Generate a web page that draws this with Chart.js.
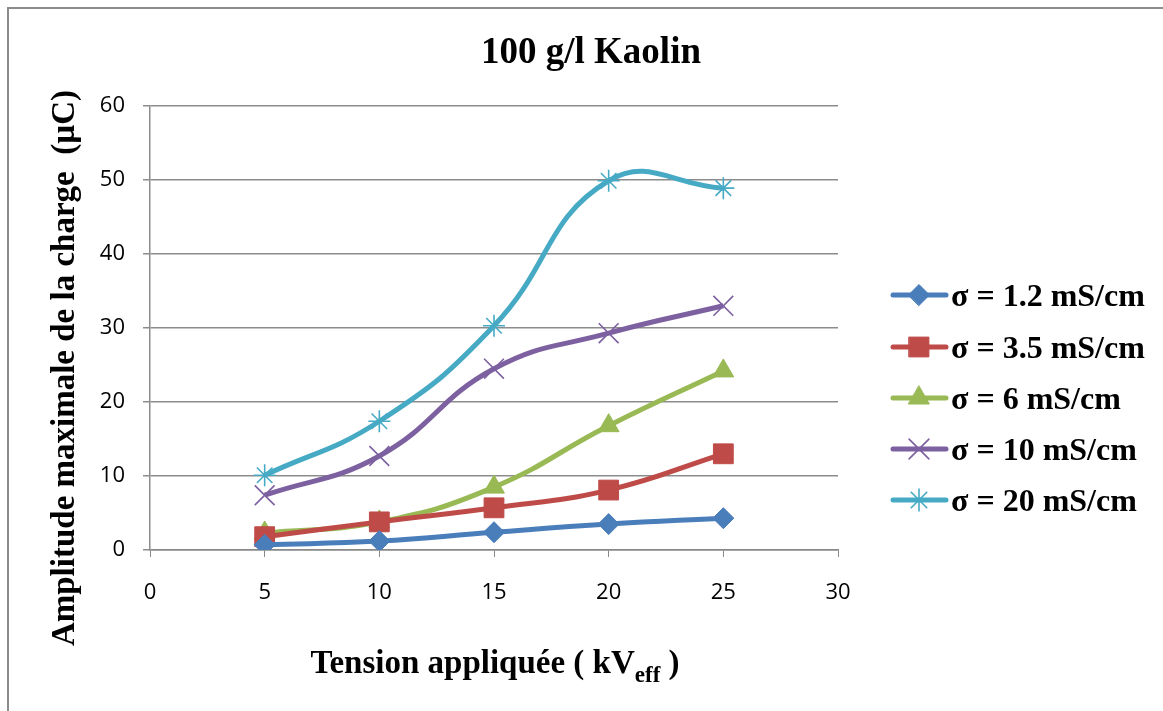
<!DOCTYPE html>
<html><head><meta charset="utf-8">
<script src="https://cdn.jsdelivr.net/npm/chart.js@4.4.1/dist/chart.umd.min.js"></script>
<style>html,body{margin:0;padding:0;background:#fff}#wrap{width:1163px;height:711px}</style>
</head><body><div id="wrap"><canvas id="c" width="1163" height="711"></canvas></div>
<script>
const voltages = [5, 10, 15, 20, 25];
const seriesNames = ['σ = 1.2 mS/cm', 'σ = 3.5 mS/cm', 'σ = 6 mS/cm', 'σ = 10 mS/cm', 'σ = 20 mS/cm'];
const s1_2 = [0.7, 1.2, 2.4, 3.5, 4.3];
const s3_5 = [1.8, 3.8, 5.7, 8.1, 13.0];
const s6 = [2.3, 3.8, 8.5, 16.8, 24.2];
const s10 = [7.4, 12.7, 24.5, 29.3, 33.0];
const s20 = [10.1, 17.4, 30.3, 49.9, 48.9];
const yTicks = [0, 10, 20, 30, 40, 50, 60];
const xTicks = [0, 5, 10, 15, 20, 25, 30];
const titleText = '100 g/l Kaolin';
const yTitle = 'Amplitude maximale de la charge  (µC)';

const colors = ['#4A7EBB', '#BE4B48', '#98B954', '#7D60A0', '#46AAC5'];
const styles = ['rectRot', 'rect', 'triangle', 'crossRot', 'star'];
const radii = [10.5, 14, 12, 14, 11];
const allData = [s1_2, s3_5, s6, s10, s20];

const datasets = allData.map((vals, i) => ({
  label: seriesNames[i],
  data: vals.map((v, j) => ({x: voltages[j], y: v})),
  borderColor: colors[i],
  backgroundColor: colors[i],
  borderWidth: 5,
  pointStyle: styles[i],
  pointRadius: radii[i],
  pointBorderWidth: (styles[i] === 'crossRot' || styles[i] === 'star') ? 1.6 : 1,
  pointBorderColor: colors[i],
  pointBackgroundColor: colors[i],
  tension: 0.45,
  fill: false
}));

const SERIF = '"Liberation Serif", "Times New Roman", serif';

const deco = {
  id: 'deco',
  beforeDraw(chart) {
    const ctx = chart.ctx;
    ctx.save();
    ctx.fillStyle = '#fff';
    ctx.fillRect(0, 0, chart.width, chart.height);
    ctx.strokeStyle = '#8c8c8c';
    ctx.lineWidth = 2;
    ctx.strokeRect(8, 8, 1170, 720);
    ctx.restore();
  },
  afterDraw(chart) {
    const ctx = chart.ctx;
    ctx.save();
    ctx.fillStyle = '#000';
    // title
    ctx.font = 'bold 37px ' + SERIF;
    ctx.textAlign = 'center';
    ctx.textBaseline = 'alphabetic';
    ctx.fillText(titleText, 591, 63);
    // y title
    ctx.save();
    ctx.translate(65, 368);
    ctx.rotate(-Math.PI / 2);
    ctx.textBaseline = 'middle';
    ctx.font = 'bold 33px ' + SERIF;
    ctx.fillText(yTitle, 0, 0);
    ctx.restore();
    // x title with subscript
    ctx.textAlign = 'left';
    ctx.textBaseline = 'alphabetic';
    const big = 'bold 33px ' + SERIF;
    const small = 'bold 23px ' + SERIF;
    const p1 = 'Tension appliquée ( kV', p2 = 'eff', p3 = ' )';
    ctx.font = big; const w1 = ctx.measureText(p1).width; const w3 = ctx.measureText(p3).width;
    ctx.font = small; const w2 = ctx.measureText(p2).width;
    let x = 495 - (w1 + w2 + w3) / 2;
    const base = 673;
    ctx.font = big; ctx.fillText(p1, x, base); x += w1;
    ctx.font = small; ctx.fillText(p2, x, base + 9); x += w2;
    ctx.font = big; ctx.fillText(p3, x, base);
    // legend
    const rows = [295, 347, 398, 449, 500];
    chart.data.datasets.forEach((ds, i) => {
      const y = rows[i];
      ctx.strokeStyle = ds.borderColor;
      ctx.lineWidth = 5;
      ctx.lineCap = 'round';
      ctx.beginPath(); ctx.moveTo(893, y); ctx.lineTo(946, y); ctx.stroke();
      ctx.fillStyle = ds.borderColor;
      ctx.strokeStyle = ds.borderColor;
      ctx.lineWidth = ds.pointBorderWidth;
      Chart.helpers.drawPoint(ctx, {pointStyle: ds.pointStyle, rotation: 0, radius: ds.pointRadius, borderWidth: ds.pointBorderWidth}, 919, y);
      ctx.fillStyle = '#000';
      ctx.font = 'bold 32px ' + SERIF;
      ctx.textBaseline = 'alphabetic';
      ctx.fillText(ds.label, 951, y + 11);
    });
    ctx.restore();
  }
};

new Chart(document.getElementById('c'), {
  type: 'line',
  data: { datasets },
  options: {
    responsive: false,
    animation: false,
    devicePixelRatio: 1,
    layout: { padding: { left: 0, top: 106, right: 325, bottom: 0 } },
    plugins: { legend: { display: false }, title: { display: false }, tooltip: { enabled: false } },
    scales: {
      x: {
        type: 'linear', min: 0, max: 30,
        afterFit(s) { s.height = 161; },
        afterBuildTicks(s) { s.ticks = xTicks.map(v => ({value: v})); },
        ticks: { color: '#000', font: { family: '"Open Sans", sans-serif', size: 22 }, padding: 23, maxRotation: 0 },
        grid: { drawOnChartArea: false, color: '#888', tickColor: '#888', tickLength: 7 },
        border: { color: '#888', width: 1.5 }
      },
      y: {
        min: 0, max: 60,
        afterFit(s) { s.width = 150; },
        afterBuildTicks(s) { s.ticks = yTicks.map(v => ({value: v})); },
        ticks: { color: '#000', font: { family: '"Open Sans", sans-serif', size: 22 }, padding: 18 },
        grid: { color: '#8c8c8c', lineWidth: 1.5, tickColor: '#8c8c8c', tickLength: 7 },
        border: { color: '#8c8c8c', width: 1.5 }
      }
    }
  },
  plugins: [deco]
});
</script></body></html>
